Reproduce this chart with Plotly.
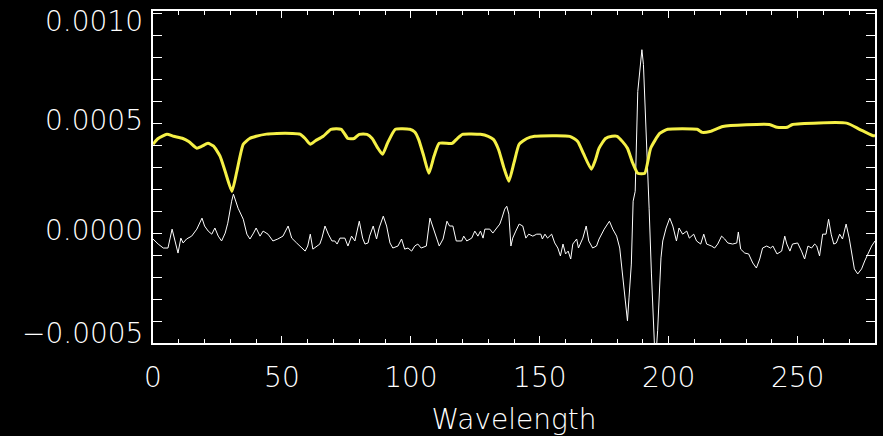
"""
    Purpose: Redraws the spectrum panel: a smoothed reference spectrum (yellow) and the
        residual of the observed spectrum (white) against wavelength, IDL-style on black.
    Outputs:
        out.html: self-contained html file with the figure.
"""
##########==========##########==========##########==========##########==========##########==========
## INITIALIZE

import plotly.graph_objects as go

## smoothed spectrum (yellow)
smooth_wave = [
    0, 2, 5.4, 8, 11.6, 14, 17, 19, 21.3, 23.5, 26, 28, 30.6, 32.5, 35, 37.5, 40, 44, 48, 54,
    57, 59, 61, 63, 66, 69, 73, 75.6, 78, 80, 83, 85, 87, 89, 91, 94, 99.6, 101.5, 103, 105,
    107, 109, 111, 116, 118, 120, 127, 130, 132, 134, 136, 138, 140, 142, 145, 148, 161.6, 164.7,
    167, 170, 171.5, 173, 175.5, 178, 180, 182, 184, 186, 188, 190.7, 193, 196.5, 199.6, 211,
    213, 216, 221, 239, 242, 246, 248, 269, 274, 279, 280]
smooth_flux = [
    4.04e-4, 4.30e-4, 4.49e-4, 4.40e-4, 4.30e-4, 4.15e-4, 3.86e-4, 3.95e-4, 4.08e-4, 3.95e-4,
    3.50e-4, 2.80e-4, 1.90e-4, 2.80e-4, 4.04e-4, 4.30e-4, 4.40e-4, 4.50e-4, 4.53e-4, 4.53e-4,
    4.50e-4, 4.30e-4, 4.04e-4, 4.20e-4, 4.40e-4, 4.72e-4, 4.72e-4, 4.30e-4, 4.30e-4, 4.49e-4,
    4.49e-4, 4.30e-4, 3.90e-4, 3.58e-4, 4.10e-4, 4.72e-4, 4.72e-4, 4.60e-4, 4.26e-4, 3.50e-4,
    2.72e-4, 3.50e-4, 4.08e-4, 4.08e-4, 4.30e-4, 4.49e-4, 4.49e-4, 4.40e-4, 4.26e-4, 3.80e-4,
    3.00e-4, 2.36e-4, 3.20e-4, 4.04e-4, 4.30e-4, 4.40e-4, 4.40e-4, 4.17e-4, 3.60e-4, 2.90e-4,
    3.30e-4, 3.86e-4, 4.30e-4, 4.40e-4, 4.40e-4, 4.17e-4, 3.86e-4, 3.20e-4, 2.72e-4, 2.72e-4,
    3.86e-4, 4.53e-4, 4.72e-4, 4.72e-4, 4.58e-4, 4.62e-4, 4.85e-4, 4.94e-4, 4.81e-4, 4.81e-4,
    4.94e-4, 5.00e-4, 4.72e-4, 4.44e-4, 4.42e-4]

## residual spectrum (white)
resid_wave = [
    0, 2, 4, 5.8, 7.4, 8.5, 9.7, 10.8, 11.7, 13, 15, 17, 19, 20, 21.4, 22.8, 24, 25.3, 26.6, 28,
    29, 30.5, 31.2, 33, 35, 36.4, 37.6, 39, 40, 41.5, 42.7, 44.6, 46.5, 48.4, 50.4, 52.4, 53.8,
    55.7, 57.7, 59, 60, 61, 62, 63.5, 64.7, 65.5, 66.7, 68, 69.4, 70.5, 71.4, 72.5, 74.4, 75.6,
    77, 78.3, 79, 80, 81.3, 82.2, 83.4, 84, 85.4, 86.7, 87.7, 89.3, 90.6, 91.9, 93, 95, 96.4,
    97.6, 98.9, 100.3, 101.5, 102.7, 104, 106, 107.4, 108.7, 110, 111, 112.5, 114, 115, 116.3,
    117.6, 119.7, 120.5, 121.7, 123.6, 124.8, 126, 127, 128, 128.7, 130.6, 131.8, 133.3, 134.5,
    135.3, 136.4, 137.2, 138, 138.8, 139.5, 140.7, 142, 143.4, 144.6, 145.7, 147.3, 148.8, 150.4,
    151, 152, 153, 154.6, 155.8, 157, 158, 159, 160, 161, 162, 162.8, 164.3, 165, 166.7, 168,
    169, 170.5, 172, 173, 175, 176.4, 177, 178.3, 179.8, 181, 182, 183, 184, 184.6, 185.5, 186.2,
    187, 188, 189, 189.6, 190.2, 191.5, 192.4, 193.3, 194, 194.8, 195.7, 197, 197.7, 199, 200.4,
    201.6, 203, 204, 205.4, 207, 208, 209.7, 210.8, 212.4, 213.6, 214.7, 216.6, 217.8, 219,
    220.5, 221.7, 222.9, 224.8, 226.4, 227, 227.9, 229.5, 231, 232.6, 234, 235.3, 236.4, 238,
    239.5, 240.4, 242, 243.8, 245, 245.8, 247, 248, 250, 251.5, 252.7, 254, 255.4, 256.6, 257.4,
    258.5, 259.7, 261, 262, 263, 264, 265, 266.3, 267.4, 268.8, 270, 271.3, 272, 273.3, 274.8,
    276, 277.3, 278.7, 280]
resid_flux = [
    -2.7e-5, -5.0e-5, -6.8e-5, -6.8e-5, 1.8e-5, -3.6e-5, -9.1e-5, -2.3e-5, -4.5e-5, -2.7e-5,
    -1.4e-5, 1.8e-5, 6.8e-5, 3.2e-5, 0.9e-5, -0.5e-5, 2.3e-5, -1.4e-5, -3.6e-5, 0.0,
    4.5e-5, 14.5e-5, 17.7e-5, 11.3e-5, 6.3e-5, -0.5e-5, -2.7e-5, 0.0, 2.3e-5, -1.4e-5,
    0.9e-5, -0.5e-5, -3.6e-5, -2.7e-5, -1.4e-5, 3.2e-5, -2.3e-5, -4.5e-5, -6.8e-5, -8.2e-5,
    -5.9e-5, -0.5e-5, -7.3e-5, -5.9e-5, -5.0e-5, -2.3e-5, 3.2e-5, -0.5e-5, -3.6e-5, -3.6e-5,
    -5.0e-5, -2.3e-5, -2.3e-5, -5.9e-5, -1.4e-5, -3.6e-5, 0.0, 5.4e-5, -2.3e-5, -5.0e-5,
    -4.5e-5, -1.4e-5, 3.2e-5, -2.7e-5, 2.3e-5, 7.7e-5, 3.2e-5, -4.5e-5, -6.8e-5, -5.9e-5,
    -2.7e-5, -7.3e-5, -6.8e-5, -8.2e-5, -5.9e-5, -5.0e-5, -6.8e-5, -5.9e-5, 6.8e-5, 1.8e-5,
    -2.7e-5, -5.9e-5, -2.7e-5, 5.4e-5, 3.2e-5, 3.2e-5, -3.6e-5, -3.6e-5, -1.4e-5, -3.6e-5,
    -2.3e-5, 0.9e-5, -1.4e-5, 0.9e-5, -2.3e-5, 1.8e-5, 1.8e-5, 0.0, 2.3e-5, 4.1e-5,
    6.8e-5, 10.9e-5, 12.2e-5, 8.6e-5, -5.9e-5, -2.3e-5, 0.9e-5, 4.1e-5, 3.2e-5, -2.3e-5,
    -0.5e-5, -1.4e-5, -0.5e-5, -0.5e-5, -2.7e-5, -0.5e-5, -2.3e-5, -0.5e-5, -4.5e-5, -6.8e-5,
    -10.4e-5, -5.0e-5, -9.5e-5, -8.2e-5, -11.8e-5, -5.0e-5, -2.7e-5, -6.8e-5, -2.3e-5, 3.2e-5,
    -3.6e-5, -6.8e-5, -5.9e-5, -2.7e-5, 1.8e-5, 4.5e-5, 5.4e-5, 1.8e-5, -1.4e-5, -6.8e-5,
    -18.6e-5, -30.8e-5, -39.9e-5, -29.5e-5, -14.1e-5, 14.5e-5, 19.0e-5, 64.4e-5, 76.6e-5,
    83.4e-5, 76.6e-5, 41.7e-5, 11.3e-5, -18.6e-5, -44.4e-5, -60.0e-5, -44.4e-5, -11.3e-5,
    -3.6e-5, 2.3e-5, 6.8e-5, 3.2e-5, -3.6e-5, 2.3e-5, -0.5e-5, 0.9e-5, -2.3e-5, -0.5e-5,
    -3.6e-5, -5.0e-5, -0.5e-5, -5.0e-5, -5.9e-5, -6.8e-5, -5.0e-5, -1.4e-5, -2.7e-5, -4.5e-5,
    -5.0e-5, -4.5e-5, 0.5e-5, -7.3e-5, -9.1e-5, -9.5e-5, -13.6e-5, -15.9e-5, -11.8e-5, -6.8e-5,
    -5.9e-5, -6.8e-5, -5.9e-5, -9.5e-5, -8.2e-5, -1.4e-5, -5.0e-5, -8.2e-5, -5.0e-5, -4.5e-5,
    -8.2e-5, -11.8e-5, -5.9e-5, -6.8e-5, -5.0e-5, -5.9e-5, -10.4e-5, -0.5e-5, -0.5e-5, 6.3e-5,
    -0.5e-5, -5.0e-5, -4.5e-5, -0.5e-5, -2.7e-5, 4.1e-5, -2.3e-5, -11.8e-5, -16.3e-5, -18.6e-5,
    -16.3e-5, -12.7e-5, -9.5e-5, -5.9e-5, -3.6e-5]

x_range = [0, 280]
y_range = [-0.0005, 0.00101]
y_ticks = [-0.0005, 0.0, 0.0005, 0.0010]
y_tick_text = ['\u22120.0005', '0.0000', '0.0005', '0.0010']
x_title = 'Wavelength'

## define parameters
params = dict()
params['width'] = 883
params['height'] = 436
params['font'] = dict(family = 'DejaVu Sans', size = 28, color = 'white', weight = 200)
## IDL keeps the end labels inside the axis span: bottom label sits on the axis, top hangs from it
params['ylabel_anchor'] = ['bottom', 'middle', 'middle', 'top']
params['ylabel_shift'] = [-9, 3, 3, 10]


##########==========##########==========##########==========##########==========##########==========
## COMPONENT FUNCTIONS

def axis_style(**kwargs):
    """Shared IDL-like boxed axis with inward ticks on all four sides"""
    axis = dict(
        showline = True, linecolor = 'white', linewidth = 2, mirror = 'allticks',
        ticks = 'inside', tickcolor = 'white', tickwidth = 1,
        showgrid = False, zeroline = False, automargin = False,
        tickfont = params['font'],
        )
    axis.update(kwargs)
    return axis


def create_figure():
    fig = go.Figure()
    fig.update_layout(
        width = params['width'], height = params['height'],
        margin = dict(l = 153, r = 8, t = 11, b = 93),
        paper_bgcolor = 'black', plot_bgcolor = 'black',
        font = params['font'],
        showlegend = False,
        xaxis = axis_style(
            range = x_range, dtick = 50, ticklen = 7, ticklabelstandoff = 8,
            minor = dict(dtick = 10, ticklen = 4, ticks = 'inside', tickcolor = 'white'),
            title = dict(text = x_title, font = params['font'], standoff = 19),
            ),
        yaxis = axis_style(
            range = y_range, tickmode = 'array', tickvals = y_ticks, showticklabels = False,
            ticklen = 9,
            minor = dict(dtick = 0.0001, ticklen = 9, ticks = 'inside', tickcolor = 'white'),
            ),
        )
    return fig


def add_ylabels(fig):
    """Y tick labels placed on the axis values, end labels nudged inside like IDL"""
    for val, txt, anchor, shift in zip(y_ticks, y_tick_text, params['ylabel_anchor'],
                                       params['ylabel_shift']):
        fig.add_annotation(
            x = 0, xref = 'paper', y = val, yref = 'y', text = txt, showarrow = False,
            xanchor = 'right', yanchor = anchor, xshift = -8, yshift = shift,
            font = params['font'],
            )
    return fig


def add_traces(fig):
    fig.add_trace(go.Scatter(
        x = resid_wave, y = resid_flux, mode = 'lines',
        line = dict(color = 'white', width = 1), name = 'residual',
        ))
    fig.add_trace(go.Scatter(
        x = smooth_wave, y = smooth_flux, mode = 'lines',
        line = dict(color = '#f5f046', width = 3, shape = 'spline', smoothing = 0.5),
        name = 'smoothed',
        ))
    return fig


##########==========##########==========##########==========##########==========##########==========
## TOP-LEVEL

if __name__ == '__main__':
    fig = create_figure()
    fig = add_ylabels(fig)
    fig = add_traces(fig)
    ## drop the browser's default page margin so the figure sits flush at the top-left
    fig.write_html('out.html', config = dict(displayModeBar = False),
                   post_script = "document.body.style.margin = '0'; document.body.style.background = 'black';")
